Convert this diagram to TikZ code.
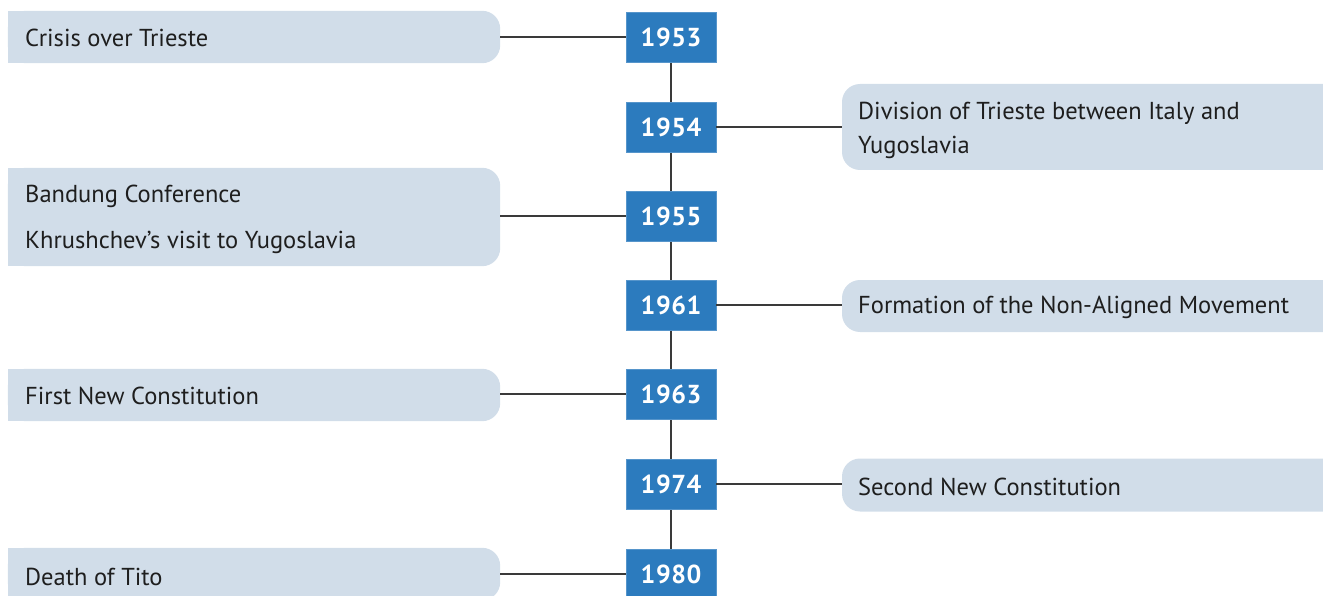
\documentclass[tikz,border=0pt]{standalone}
\usepackage{fontspec}
\setmainfont{PT Sans}
\newfontfamily\yearfont{PT Sans}[LetterSpace=2]
\usetikzlibrary{backgrounds}
\definecolor{evfill}{HTML}{D1DDE9}
\definecolor{yrfill}{HTML}{2C7BBE}
\definecolor{linec}{HTML}{3A3A3A}
\definecolor{txtc}{HTML}{1E1E1E}
\tikzset{
  yearbox/.style={fill=yrfill, draw=yrfill!80!white, line width=0.8pt, minimum width=90pt, minimum height=50pt, inner sep=0pt, text=white, font=\yearfont\fontsize{26}{28}\selectfont\bfseries},
  evtext/.style={anchor=west, inner sep=0pt, text=txtc, align=left, font=\fontsize{24.5}{34}\selectfont},
  conn/.style={draw=linec, line width=1.8pt},
  evshape/.style={inner sep=0pt},
  evright/.style={fill=evfill, inner sep=0pt, rounded corners=18pt}
}
\begin{document}
\begin{tikzpicture}[x=1pt,y=-1pt]
\useasboundingbox (0,0) rectangle (1323,596);
\clip (0,0) rectangle (1323,596);
% year boxes
\node[yearbox] (y53) at (671,37) {1953};
\node[yearbox] (y54) at (671,127) {1954};
\node[yearbox] (y55) at (671,216) {1955};
\node[yearbox] (y61) at (671,305) {1961};
\node[yearbox] (y63) at (671,394) {1963};
\node[yearbox] (y74) at (671,484) {1974};
\node[yearbox] (y80) at (671,574) {1980};
% event boxes (left)
\node[evshape, minimum width=492pt, minimum height=52pt] (b53) at (254,37) {};
\node[evshape, minimum width=492pt, minimum height=98pt] (b55) at (254,217) {};
\node[evshape, minimum width=492pt, minimum height=52pt] (b63) at (254,395) {};
\node[evshape, minimum width=492pt, minimum height=52pt] (b80) at (254,574) {};
% event boxes (right)
\node[evright, minimum width=500pt, minimum height=86pt] (b54) at (1092,127) {};
\node[evright, minimum width=500pt, minimum height=52pt] (b61) at (1092,306) {};
\node[evright, minimum width=500pt, minimum height=53pt] (b74) at (1092,485) {};
% texts
\node[evtext] (t53) at (25,38) {Crisis over Trieste};
\node[evtext] (t55) at (25,219) {Bandung Conference\\[12pt]Khrushchev’s visit to Yugoslavia};
\node[evtext] (t54) at (858,130) {Division of Trieste between Italy and\\Yugoslavia};
\node[evtext] (t61) at (858,307) {Formation of the Non-Aligned Movement};
\node[evtext] (t63) at (25,396) {First New Constitution};
\node[evtext] (t74) at (858,487) {Second New Constitution};
\node[evtext] (t80) at (25,577) {Death of Tito};
\begin{scope}[on background layer]
  \foreach \b in {b53,b55,b63,b80}{
    \fill[evfill, rounded corners=18pt] (\b.south west) rectangle (\b.north east);
    \fill[evfill] (\b.south west) rectangle (\b.north);
  }
  \draw[conn] (y53) -- (y80);
\end{scope}
% connectors
\draw[conn] (b53.east |- y53) -- (y53.west);
\draw[conn] (b55.east |- y55) -- (y55.west);
\draw[conn] (b63.east |- y63) -- (y63.west);
\draw[conn] (b80.east |- y80) -- (y80.west);
\draw[conn] (y54.east) -- (b54.west |- y54);
\draw[conn] (y61.east) -- (b61.west |- y61);
\draw[conn] (y74.east) -- (b74.west |- y74);
\end{tikzpicture}
\end{document}
